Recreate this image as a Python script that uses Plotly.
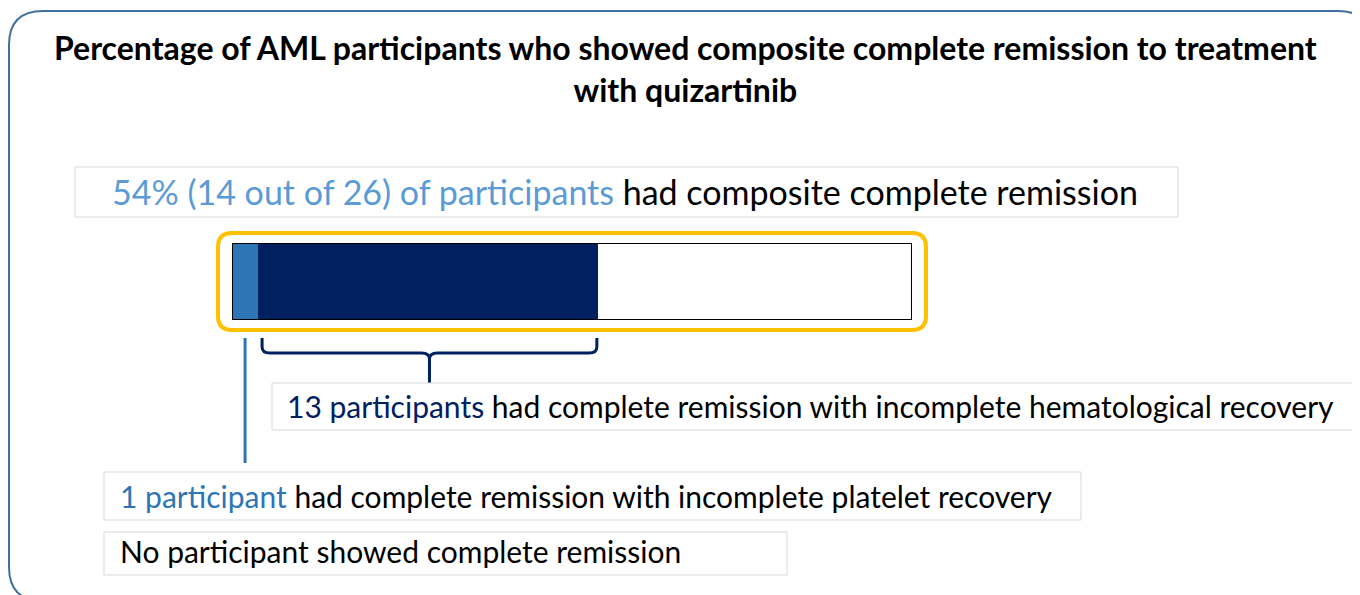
import plotly.graph_objects as go

W, H = 1360, 595
PAGE_OFFSET = 8  # default body margin of the html page

# ── data ─────────────────────────────────────────────────────────────────────
TOTAL_PARTICIPANTS = 26
SEGMENT_NAMES = ["CRp", "CRi", "No CRc"]
SEGMENT_COUNTS = [1, 13, 12]
SEGMENT_COLORS = ["#2e75b6", "#002060", "#ffffff"]

TITLE_LINES = [
    "Percentage of AML participants who showed composite complete remission to treatment",
    "with quizartinib",
]
LABEL_CRC = ("<span style='color:#5b9bd5'>54% (14 out of 26) of participants</span>"
             " had composite complete remission")
LABEL_CRI = ("<span style='color:#002060'>13 participants</span>"
             " had complete remission with incomplete hematological recovery")
LABEL_CRP = ("<span style='color:#2e75b6'>1 participant</span>"
             " had complete remission with incomplete platelet recovery")
LABEL_CR = "No participant showed complete remission"

FONT = "Lato"
NAVY = "#002060"
BLUE = "#2e75b6"
BOX_GREY = "#d9d9d9"


def px(x):
    return (x - PAGE_OFFSET) / W


def py(y):
    return 1 - (y - PAGE_OFFSET) / H


def rounded_path(x0, y0, x1, y1, r):
    """Rounded rectangle as SVG path in paper units (pixel inputs)."""
    rx, ry = r / W, r / H
    a, b, c, d = px(x0), px(x1), py(y0), py(y1)
    return (f"M{a + rx},{c} L{b - rx},{c} Q{b},{c} {b},{c - ry} "
            f"L{b},{d + ry} Q{b},{d} {b - rx},{d} L{a + rx},{d} "
            f"Q{a},{d} {a},{d + ry} L{a},{c - ry} Q{a},{c} {a + rx},{c} Z")


fig = go.Figure()

# stacked bar
for name, count, color in zip(SEGMENT_NAMES, SEGMENT_COUNTS, SEGMENT_COLORS):
    fig.add_trace(go.Bar(
        x=[count], y=[0], orientation="h", name=name, width=1,
        marker=dict(color=color, line=dict(width=0)),
        hoverinfo="skip",
    ))

shapes = []

# outer frame
shapes.append(dict(type="path", xref="paper", yref="paper",
                   path=rounded_path(9, 11, 1372, 601, 34),
                   line=dict(color="#41719c", width=2)))

# yellow highlight box around the bar
shapes.append(dict(type="path", xref="paper", yref="paper",
                   path=rounded_path(218, 233, 926, 330, 14),
                   line=dict(color="#ffc000", width=4)))

# bar outline
shapes.append(dict(type="rect", xref="x", yref="y", x0=0, x1=TOTAL_PARTICIPANTS,
                   y0=-0.5, y1=0.5, line=dict(color="black", width=2)))

# brace under the CRi segment
a = SEGMENT_COUNTS[0] + 0.15
b = SEGMENT_COUNTS[0] + SEGMENT_COUNTS[1] - 0.05
m = (a + b) / 2
dx = 0.3
yt, yh, yb = py(338), py(353), py(383)
yk, yc = py(347), py(359)
brace = (f"M{a},{yt} L{a},{yk} Q{a},{yh} {a + dx},{yh} L{m - dx},{yh} "
         f"Q{m},{yh} {m},{yc} L{m},{yb} "
         f"M{m},{yc} Q{m},{yh} {m + dx},{yh} L{b - dx},{yh} Q{b},{yh} {b},{yk} L{b},{yt}")
shapes.append(dict(type="path", xref="x", yref="paper", path=brace,
                   line=dict(color=NAVY, width=3)))

# connector for the CRp segment
cx = SEGMENT_COUNTS[0] / 2
shapes.append(dict(type="line", xref="x", yref="paper", x0=cx, x1=cx,
                   y0=py(338), y1=py(463), line=dict(color=BLUE, width=3)))

# text boxes (grey frames)
for x0, y0, x1, y1 in [(75, 167, 1178, 217), (272, 383, 1375, 430),
                       (104, 472, 1081, 520), (104, 532, 787, 575)]:
    shapes.append(dict(type="rect", xref="paper", yref="paper",
                       x0=px(x0), x1=px(x1), y0=py(y1), y1=py(y0),
                       line=dict(color=BOX_GREY, width=1)))

annotations = [
    dict(text="<br>".join(f"<b>{t}</b>" for t in TITLE_LINES), x=px(685), y=py(69),
         xanchor="center", align="center",
         font=dict(size=32, color="black", family=FONT)),
    dict(text=LABEL_CRC, x=px(110), y=py(191), xanchor="left",
         font=dict(size=34, color="black", family=FONT)),
    dict(text=LABEL_CRI, x=px(285), y=py(406), xanchor="left",
         font=dict(size=30, color="black", family=FONT)),
    dict(text=LABEL_CRP, x=px(118), y=py(496), xanchor="left",
         font=dict(size=30, color="black", family=FONT)),
    dict(text=LABEL_CR, x=px(118), y=py(551), xanchor="left",
         font=dict(size=30, color="black", family=FONT)),
]
for ann in annotations:
    ann.update(xref="paper", yref="paper", showarrow=False, yanchor="middle")

fig.update_layout(
    width=W, height=H,
    margin=dict(l=0, r=0, t=0, b=0),
    paper_bgcolor="white", plot_bgcolor="rgba(0,0,0,0)",
    barmode="stack", bargap=0, showlegend=False,
    xaxis=dict(domain=[px(232), px(912)], range=[0, TOTAL_PARTICIPANTS],
               visible=False, fixedrange=True),
    yaxis=dict(domain=[py(320), py(243)], range=[-0.5, 0.5],
               visible=False, fixedrange=True),
    shapes=shapes, annotations=annotations,
    font=dict(family=FONT),
)

fig.write_html("out.html", config=dict(displayModeBar=False))
